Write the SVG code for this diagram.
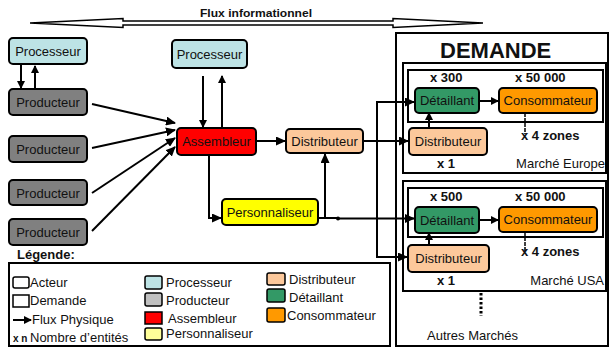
<svg xmlns="http://www.w3.org/2000/svg" width="612" height="349" viewBox="0 0 612 349">
<defs>
<marker id="ah" markerUnits="userSpaceOnUse" markerWidth="10" markerHeight="9" refX="9" refY="4.5" orient="auto">
<path d="M0,0 L10,4.5 L0,9 z" fill="#000"/>
</marker>
<marker id="ahs" markerUnits="userSpaceOnUse" markerWidth="8" markerHeight="8" refX="7" refY="4" orient="auto">
<path d="M0,0 L8,4 L0,8 z" fill="#000"/>
</marker>
<style>
text{font-family:"Liberation Sans",Arial,sans-serif;fill:#111}
.n{font-size:13px;text-anchor:middle}
.b{font-weight:bold;font-size:13px}
.r{font-size:13px}
.box{stroke:#000;stroke-width:2}
.proc{fill:#bde3e5}
.prod{fill:#808080}
.ass{fill:#ff0000}
.pers{fill:#ffff00}
.dist{fill:#fcc89b}
.det{fill:#339966}
.cons{fill:#ff9900}
.frame{fill:none;stroke:#000;stroke-width:2}
.c{fill:none;stroke:#000;stroke-width:2;marker-end:url(#ah)}
.cs{fill:none;stroke:#000;stroke-width:2;marker-end:url(#ahs)}
.sw{stroke:#000;stroke-width:1.5}
</style>
</defs>

<g id="flux-info">
<polygon points="30,23 123,18.5 123,21 393,21 393,18.5 483,23 393,27.5 393,25 123,25 123,27.5" fill="#fff" stroke="#000" stroke-width="1.5"/>
<text x="200" y="17" font-size="11.5" font-weight="bold" textLength="112" lengthAdjust="spacingAndGlyphs">Flux informationnel</text>
</g>

<g id="demande">
<rect x="396" y="33" width="212" height="313" class="frame"/>
<text x="440" y="58" font-size="22" font-weight="bold">DEMANDE</text>
</g>

<g id="marche-europe">
<rect x="403" y="63" width="203" height="110" class="frame"/>
<rect x="408" y="70" width="195" height="52" class="frame"/>
<text x="430" y="82" class="b">x 300</text>
<text x="515" y="82" class="b">x 50 000</text>
<text x="521" y="140" class="b">x 4 zones</text>
<text x="437" y="168" class="b">x 1</text>
<text x="605" y="168" class="r" text-anchor="end">Marché Europe</text>
</g>

<g id="marche-usa">
<rect x="403" y="181" width="203" height="110" class="frame"/>
<rect x="408" y="188" width="195" height="49" class="frame"/>
<text x="430" y="201" class="b">x 500</text>
<text x="515" y="201" class="b">x 50 000</text>
<text x="521" y="256" class="b">x 4 zones</text>
<text x="437" y="285" class="b">x 1</text>
<text x="604" y="285" class="r" text-anchor="end">Marché USA</text>
</g>

<g id="autres-marches">
<line x1="481" y1="293" x2="481" y2="316" stroke="#000" stroke-width="3" stroke-dasharray="2.5,2"/>
<text x="427" y="340" class="r">Autres Marchés</text>
</g>

<g id="connectors">
<line x1="21" y1="65" x2="21" y2="88" class="cs" stroke-width="2.5"/>
<line x1="35" y1="89" x2="35" y2="66" class="cs" stroke-width="2.5"/>
<line x1="203" y1="76" x2="203" y2="127" class="cs" stroke-width="1.8"/>
<line x1="222" y1="127" x2="222" y2="76" class="cs" stroke-width="3"/>
<line x1="92" y1="104" x2="175" y2="123" class="c"/>
<line x1="92" y1="148" x2="175" y2="130" class="c" stroke-width="4"/>
<line x1="92" y1="193" x2="175" y2="138" class="c"/>
<line x1="92" y1="231" x2="175" y2="147" class="c"/>
<line x1="256" y1="141" x2="285" y2="141" class="c" stroke-width="3"/>
<path d="M209,155 V218 H221" class="c"/>
<path d="M318,218 H325 V154" class="c"/>
<path d="M325,218 H338" fill="none" stroke="#000" stroke-width="2"/>
<path d="M338,218.5 H414" class="c" stroke-width="3"/>
<circle cx="338" cy="218.5" r="2" fill="#000"/>
<path d="M363,141 H408" class="c" stroke-width="3"/>
<path d="M377,141 V102 H414" class="c" stroke-width="3"/>
<path d="M377,141 V257 H407" class="c" stroke-width="3"/>
<line x1="429" y1="128" x2="429" y2="113" class="cs" stroke-width="2.5"/>
<line x1="429" y1="245" x2="429" y2="233" class="cs" stroke-width="2.5"/>
<circle cx="429" cy="238" r="2" fill="#000"/>
<line x1="479" y1="101" x2="498" y2="101" class="cs" stroke-width="3"/>
<line x1="479" y1="220" x2="498" y2="220" class="cs" stroke-width="3"/>
<line x1="525" y1="113" x2="525" y2="134" stroke="#000" stroke-width="1.5" stroke-dasharray="4,1"/>
<line x1="525" y1="232" x2="525" y2="251" stroke="#000" stroke-width="1.5" stroke-dasharray="4,1"/>
</g>

<g id="processeur-1"><rect x="9" y="38" width="78" height="26" rx="4" class="box proc"/><text x="48" y="56" class="n">Processeur</text></g>
<g id="processeur-2"><rect x="172" y="40" width="75" height="28" rx="4" class="box proc"/><text x="209.5" y="59" class="n">Processeur</text></g>
<g id="producteur-1"><rect x="9" y="89" width="78" height="26" rx="4" class="box prod"/><text x="48" y="107" class="n">Producteur</text></g>
<g id="producteur-2"><rect x="9" y="136" width="78" height="26" rx="4" class="box prod"/><text x="48" y="154" class="n">Producteur</text></g>
<g id="producteur-3"><rect x="9" y="180" width="78" height="25" rx="4" class="box prod"/><text x="48" y="197.5" class="n">Producteur</text></g>
<g id="producteur-4"><rect x="9" y="219" width="78" height="26" rx="4" class="box prod"/><text x="48" y="237" class="n">Producteur</text></g>
<g id="assembleur"><rect x="177" y="128" width="79" height="27" rx="4" class="box ass"/><text x="216.5" y="146" class="n">Assembleur</text></g>
<g id="distributeur"><rect x="286" y="129" width="77" height="24" rx="4" class="box dist"/><text x="324.5" y="145.5" class="n">Distributeur</text></g>
<g id="personnaliseur"><rect x="222" y="199" width="96" height="26" rx="4" class="box pers"/><text x="270" y="217" class="n">Personnaliseur</text></g>
<g id="detaillant-eu"><rect x="415" y="88" width="64" height="25" rx="4" class="box det"/><text x="447" y="105" class="n">Détaillant</text></g>
<g id="consommateur-eu"><rect x="499" y="88" width="98" height="25" rx="4" class="box cons"/><text x="548" y="105" class="n">Consommateur</text></g>
<g id="distributeur-eu"><rect x="409" y="128" width="78" height="27" rx="4" class="box dist"/><text x="448" y="146" class="n">Distributeur</text></g>
<g id="detaillant-usa"><rect x="415" y="207" width="64" height="26" rx="4" class="box det"/><text x="447" y="224.5" class="n">Détaillant</text></g>
<g id="consommateur-usa"><rect x="499" y="207" width="98" height="25" rx="4" class="box cons"/><text x="548" y="224" class="n">Consommateur</text></g>
<g id="distributeur-usa"><rect x="408" y="245" width="81" height="27" rx="4" class="box dist"/><text x="448.5" y="263" class="n">Distributeur</text></g>

<g id="legende">
<text x="17" y="259" class="b">Légende:</text>
<rect x="9" y="263" width="381" height="83" class="frame"/>
<rect x="13" y="277" width="16" height="11" rx="2" fill="#fff" class="sw"/>
<text x="30" y="287" class="r">Acteur</text>
<rect x="13" y="295" width="16" height="12" fill="#fff" class="sw"/>
<text x="30" y="305" class="r">Demande</text>
<line x1="13" y1="320" x2="31" y2="320" class="cs" stroke-width="2"/>
<text x="32" y="324" class="r">Flux Physique</text>
<text x="13" y="342" font-size="10" font-weight="bold">x n</text>
<text x="30" y="342" class="r">Nombre d’entités</text>
<rect x="145" y="276" width="17" height="13" rx="2" class="sw" fill="#bde3e5"/>
<text x="166" y="287" class="r">Processeur</text>
<rect x="145" y="293" width="17" height="13" rx="2" class="sw" fill="#c0c0c0"/>
<text x="166" y="305" class="r">Producteur</text>
<rect x="145" y="312" width="17" height="12" class="sw" fill="#ff0000"/>
<text x="168" y="323" class="r">Assembleur</text>
<rect x="145" y="328" width="17" height="12" rx="2" class="sw" fill="#ffff99"/>
<text x="166" y="338" class="r">Personnaliseur</text>
<rect x="267" y="273" width="18" height="12" rx="2" class="sw" fill="#fcc89b"/>
<text x="289" y="284" class="r">Distributeur</text>
<rect x="267" y="289" width="18" height="13" rx="2" class="sw" fill="#339966"/>
<text x="289" y="302" class="r">Détaillant</text>
<rect x="267" y="308" width="18" height="14" rx="2" class="sw" fill="#ff9900"/>
<text x="287" y="320" class="r">Consommateur</text>
</g>
</svg>
